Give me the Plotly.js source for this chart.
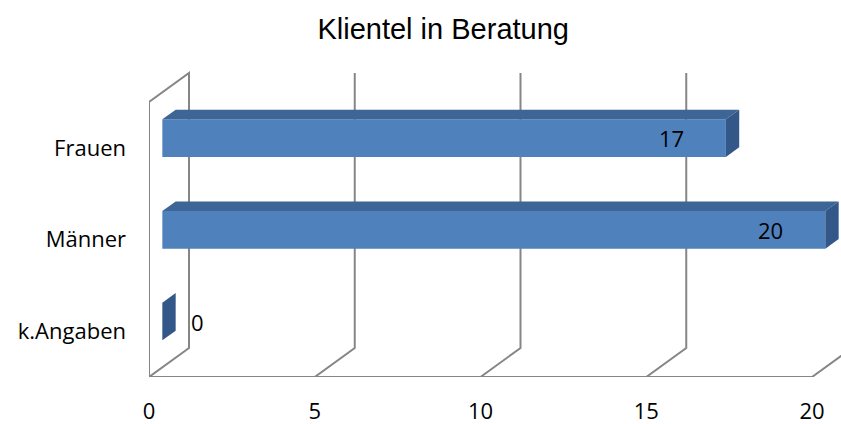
<!DOCTYPE html>
<html>
<head>
<meta charset="utf-8">
<script src="https://cdn.plot.ly/plotly-3.0.1.min.js"></script>
<style>
  html, body { margin: 0; padding: 0; background: #ffffff; }
  #chart { width: 841px; height: 424px; }
</style>
</head>
<body>
<div id="chart"></div>
<script>
// Klientel in Beratung – horizontal 3D-style bar chart
const categories = ['k.Angaben', 'Männer', 'Frauen'];
const counts = [0, 20, 17];
const tickValues = [0, 5, 10, 15, 20];

// geometry of the drawing area (pixels)
const W = 841, H = 424;
const M = { l: 149, r: 0, t: 62, b: 47 };
const PW = W - M.l - M.r;          // plot width
const PH = H - M.t - M.b;          // plot height
const FRONT_W = 663;               // front floor length from 0 to 20
const FRONT_H = 275;               // front wall height (three category rows)
const KX = FRONT_W / 20;           // pixels per unit
const KY = FRONT_H / categories.length; // pixels per category row
const DEPTH_X = 40, DEPTH_Y = 29;  // oblique depth of the box (pixels)

// depth in axis units
const dxu = DEPTH_X / KX, dyu = DEPTH_Y / KY;
// the bars sit in the middle third of the depth
const bdx = dxu / 3, bdy = dyu / 3;
const barWidth = 0.41;

const gridColor = '#868686';
const frontColor = '#4f81bd';
const topColor = '#3d6596';
const sideColor = '#34578a';
const fontFamily = '"Open Sans", "Noto Sans", sans-serif';

const shapes = [];

// floor front edge
shapes.push({
  type: 'line', xref: 'x', yref: 'y', layer: 'below',
  x0: 0, x1: tickValues[tickValues.length - 1], y0: -0.5, y1: -0.5,
  line: { color: gridColor, width: 2 }
});

// left wall and oblique gridlines on floor / back wall
tickValues.forEach(function (t) {
  const yTopBack = categories.length - 0.5 + dyu;
  let path;
  if (t === 0) {
    path = 'M' + t + ',-0.5' +
           ' L' + t + ',' + (categories.length - 0.5) +
           ' L' + (t + dxu) + ',' + yTopBack +
           ' L' + (t + dxu) + ',' + (-0.5 + dyu) + ' Z';
  } else {
    path = 'M' + t + ',-0.5' +
           ' L' + (t + dxu) + ',' + (-0.5 + dyu) +
           ' L' + (t + dxu) + ',' + yTopBack;
  }
  shapes.push({
    type: 'path', xref: 'x', yref: 'y', layer: 'below', path: path,
    line: { color: gridColor, width: 2 }, fillcolor: 'rgba(0,0,0,0)'
  });
});

// top and side faces of each bar
counts.forEach(function (v, i) {
  const yt = i + barWidth / 2, yb = i - barWidth / 2;
  if (v > 0) {
    shapes.push({
      type: 'path', xref: 'x2', yref: 'y2', layer: 'above',
      path: 'M0,' + yt + ' L' + v + ',' + yt +
            ' L' + (v + bdx) + ',' + (yt + bdy) +
            ' L' + bdx + ',' + (yt + bdy) + ' Z',
      fillcolor: topColor, line: { width: 0 }
    });
  }
  shapes.push({
    type: 'path', xref: 'x2', yref: 'y2', layer: 'above',
    path: 'M' + v + ',' + yt +
          ' L' + (v + bdx) + ',' + (yt + bdy) +
          ' L' + (v + bdx) + ',' + (yb + bdy) +
          ' L' + v + ',' + yb + ' Z',
    fillcolor: sideColor, line: { width: 0 }
  });
});

// value labels
const annotations = counts.map(function (v, i) {
  return {
    xref: 'x2', yref: 'y2', x: v, y: categories[i],
    text: String(v), showarrow: false,
    xanchor: v > 0 ? 'right' : 'left',
    xshift: v > 0 ? -40 : 27,
    yanchor: 'middle',
    font: { family: fontFamily, size: 22, color: '#000000' }
  };
});

const trace = {
  type: 'bar', orientation: 'h',
  x: counts, y: categories,
  xaxis: 'x2', yaxis: 'y2',
  width: barWidth,
  marker: { color: frontColor, line: { width: 0 } },
  hoverinfo: 'x+y'
};

const layout = {
  width: W, height: H,
  margin: M,
  paper_bgcolor: '#ffffff', plot_bgcolor: 'rgba(0,0,0,0)',
  showlegend: false,
  title: {
    text: 'Klientel in Beratung',
    xref: 'container', x: 0.527, xanchor: 'center',
    yref: 'container', y: 0.932, yanchor: 'middle',
    font: { family: '"Liberation Sans", Arial, sans-serif', size: 29, color: '#000000' }
  },
  xaxis: {
    range: [0, PW / KX], tickvals: tickValues, ticktext: tickValues.map(String),
    showgrid: false, zeroline: false, showline: false, ticks: '',
    ticklabelstandoff: 19,
    tickfont: { family: fontFamily, size: 22, color: '#000000' },
    fixedrange: true
  },
  yaxis: {
    type: 'linear',
    range: [-0.5, -0.5 + PH / KY],
    tickvals: categories.map(function (c, i) { return i; }),
    ticktext: categories,
    showgrid: false, zeroline: false, showline: false, ticks: '',
    ticklabelstandoff: 22,
    tickfont: { family: fontFamily, size: 22, color: '#000000' },
    fixedrange: true
  },
  xaxis2: {
    overlaying: 'x', range: [-bdx, -bdx + PW / KX],
    visible: false, fixedrange: true
  },
  yaxis2: {
    overlaying: 'y', type: 'category', categoryarray: categories, categoryorder: 'array',
    range: [-0.5 - bdy, -0.5 - bdy + PH / KY],
    visible: false, fixedrange: true
  },
  shapes: shapes,
  annotations: annotations
};

Plotly.newPlot('chart', [trace], layout, { displayModeBar: false, staticPlot: true });
</script>
</body>
</html>
